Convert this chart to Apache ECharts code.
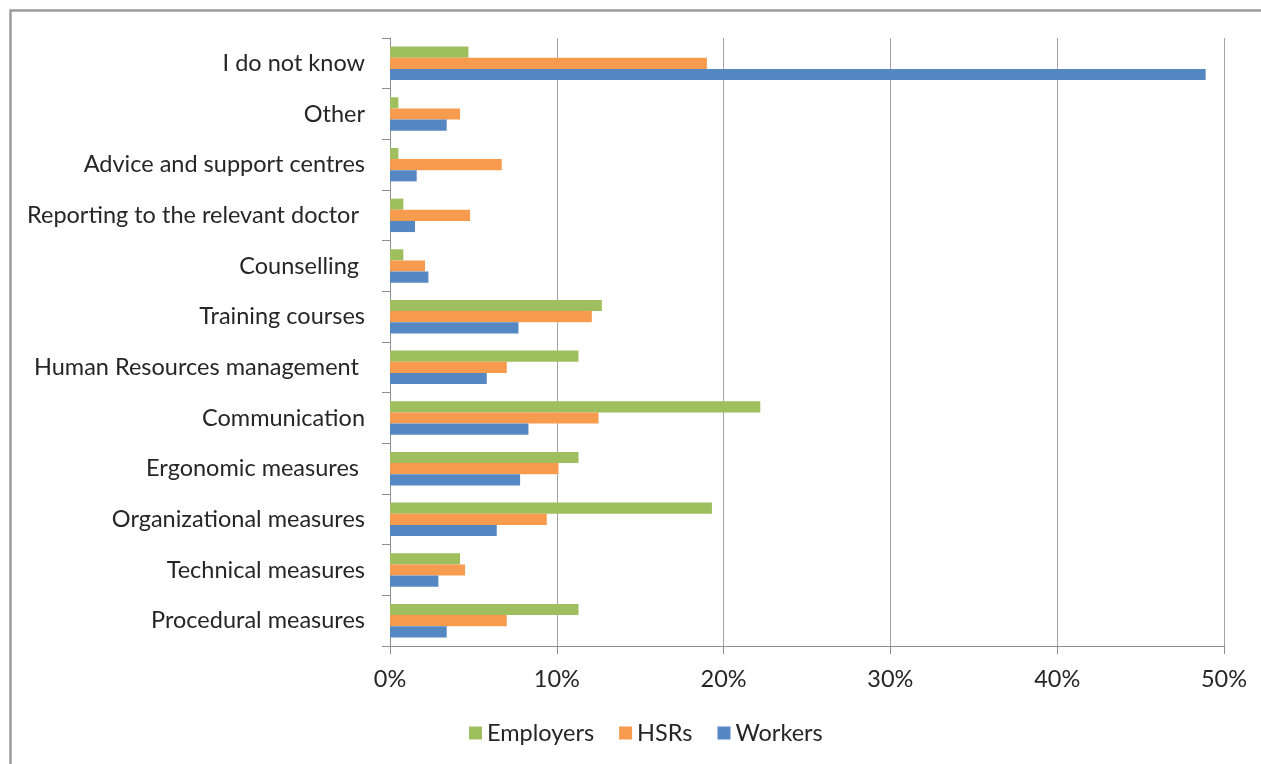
<!DOCTYPE html>
<html>
<head>
<meta charset="utf-8">
<script src="https://cdn.jsdelivr.net/npm/echarts@6/dist/echarts.min.js"></script>
<style>
  html, body { margin: 0; padding: 0; background: #fff; }
  #chart { width: 1261px; height: 764px; }
</style>
</head>
<body>
<div id="chart"></div>
<script>
// Measures listed top to bottom (trailing spaces kept as in the source labels)
const categories = [
  'I do not know',
  'Other',
  'Advice and support centres',
  'Reporting to the relevant doctor ',
  'Counselling ',
  'Training courses',
  'Human Resources management ',
  'Communication',
  'Ergonomic measures ',
  'Organizational measures',
  'Technical measures',
  'Procedural measures'
];

// Share of respondents (%) per group, same order as categories
const employers = [4.7, 0.5, 0.5, 0.8, 0.8, 12.7, 11.3, 22.2, 11.3, 19.3, 4.2, 11.3];
const hsrs      = [19.0, 4.2, 6.7, 4.8, 2.1, 12.1, 7.0, 12.5, 10.1, 9.4, 4.5, 7.0];
const workers   = [48.9, 3.4, 1.6, 1.5, 2.3, 7.7, 5.8, 8.3, 7.8, 6.4, 2.9, 3.4];

const xTicks = [0, 10, 20, 30, 40, 50];

const seriesNames = ['Employers', 'HSRs', 'Workers'];
const seriesColors = ['#9FBE5E', '#F79B4E', '#5588C3'];
const seriesData = [employers, hsrs, workers];

const font = 'Lato, "Open Sans", sans-serif';
const textColor = '#262626';
const fontSize = 23.5;

const chart = echarts.init(document.getElementById('chart'), null, { renderer: 'canvas' });

chart.setOption({
  animation: false,
  backgroundColor: '#ffffff',
  textStyle: { fontFamily: font },
  grid: { left: 390, right: 37, top: 38, bottom: 118, containLabel: false },
  legend: {
    data: seriesNames,
    left: 469,
    top: 721,
    padding: 0,
    icon: 'rect',
    itemWidth: 13,
    itemHeight: 13,
    itemGap: 25,
    textStyle: { fontFamily: font, fontSize: fontSize, color: textColor }
  },
  xAxis: {
    type: 'value',
    min: xTicks[0],
    max: xTicks[xTicks.length - 1],
    interval: 10,
    axisLine: { show: true, lineStyle: { color: '#8f8f8f', width: 1 } },
    axisTick: { show: true, length: 8, lineStyle: { color: '#8f8f8f' } },
    splitLine: { show: true, lineStyle: { color: '#a3a3a3', width: 1 } },
    axisLabel: {
      margin: 21,
      fontFamily: font,
      fontSize: fontSize,
      color: textColor,
      formatter: v => v + '%'
    }
  },
  yAxis: {
    type: 'category',
    data: categories,
    inverse: true,
    axisLine: { show: true, lineStyle: { color: '#8f8f8f', width: 1 } },
    axisTick: { show: true, length: 8, alignWithLabel: false, lineStyle: { color: '#8f8f8f' } },
    splitLine: { show: false },
    axisLabel: {
      margin: 25,
      fontFamily: font,
      fontSize: fontSize,
      color: textColor
    }
  },
  series: seriesNames.map((name, i) => ({
    name: name,
    type: 'bar',
    data: seriesData[i],
    barGap: '0%',
    barCategoryGap: '34%',
    itemStyle: { color: seriesColors[i] }
  })),
  graphic: [{
    type: 'rect',
    shape: { x: 10.5, y: 10.5, width: 1300, height: 800 },
    style: { fill: 'none', stroke: '#9a9a9a', lineWidth: 2.5 },
    silent: true
  }]
});
</script>
</body>
</html>
